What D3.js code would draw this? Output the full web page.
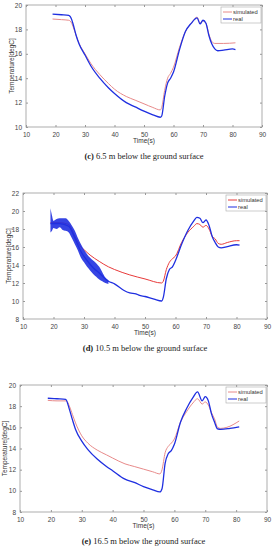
<!DOCTYPE html>
<html>
<head>
<meta charset="utf-8">
<script src="https://cdn.jsdelivr.net/npm/d3@7"></script>
<style>
  body { margin: 0; background: #fff; }
  .tick text { font-family: "Liberation Sans", Arial, sans-serif; font-size: 6.5px; fill: #444; }
  .axis path, .axis line { stroke: #999; }
</style>
</head>
<body>
<div id="chart"></div>
<script>
const xTicks = [10, 20, 30, 40, 50, 60, 70, 80, 90];

// (c) 6.5 m
const simC = [[19, 18.85], [22, 18.8], [24.5, 18.75], [25.5, 18.5], [26, 18.2], [27, 17.5], [28, 16.85], [30, 16.0], [32, 15.2], [35, 14.3], [38, 13.55], [40, 13.1], [44, 12.5], [47, 12.2], [50, 11.9], [53, 11.6], [55.5, 11.4], [56, 11.6], [57, 13.0], [58, 14.0], [59, 14.4], [60, 14.9], [62, 16.5], [64, 17.8], [66, 18.5], [68, 19.0], [69, 18.5], [70, 18.7], [71, 18.5], [72, 17.6], [73, 17.0], [74, 16.85], [77, 16.85], [81, 16.9]];
const realC = [[19, 19.25], [22, 19.2], [24.5, 19.15], [25.5, 18.8], [26, 18.4], [27, 17.5], [28, 16.8], [30, 15.9], [32, 15.0], [35, 14.0], [38, 13.2], [40, 12.75], [44, 12.0], [47, 11.65], [50, 11.3], [53, 11.0], [55.5, 10.8], [56, 10.9], [57, 12.5], [58, 13.6], [59, 14.0], [60, 14.5], [62, 16.3], [64, 17.8], [66, 18.5], [68, 18.95], [69, 18.45], [70, 18.75], [71, 18.5], [72, 17.5], [73, 16.8], [74, 16.4], [75, 16.25], [77, 16.3], [80, 16.4], [81, 16.35]];

// (d) 10.5 m
const simD = [[19, 18.7], [22, 18.7], [25, 18.5], [27, 17.2], [29, 16.0], [30, 15.7], [32, 15.1], [35, 14.4], [38, 13.8], [40, 13.5], [45, 12.9], [50, 12.45], [55.5, 12.0], [56, 12.2], [57, 13.5], [58, 14.3], [59, 14.7], [60, 15.0], [62, 16.5], [64, 17.6], [66, 18.3], [67, 18.6], [68, 18.5], [69, 18.2], [70, 18.4], [71, 18.0], [72, 17.2], [73, 16.9], [74, 16.4], [75, 16.3], [77, 16.5], [80, 16.7], [81, 16.7]];
const realD = [[19, 18.6], [22, 18.6], [25, 18.3], [27, 17.0], [29, 15.5], [31, 14.5], [33, 13.7], [35, 13.1], [38, 12.2], [40, 11.9], [43, 11.2], [45, 10.9], [47, 10.8], [48, 10.65], [50, 10.5], [53, 10.2], [55.5, 10.0], [56, 10.4], [57, 12.5], [58, 13.5], [59, 13.8], [60, 14.5], [62, 16.3], [64, 17.8], [66, 18.9], [67, 19.3], [68, 19.2], [69, 18.7], [70, 19.0], [71, 18.4], [72, 17.2], [73, 16.5], [74, 16.0], [75, 15.9], [77, 16.05], [80, 16.25], [81, 16.2]];
// noisy envelope of the real series at 10.5 m: [time, low, high]
const bandD = [[19, 17.6, 20.3], [19.5, 17.8, 19.5], [20, 18.1, 18.9], [21, 18.0, 19.1], [22, 18.2, 19.2], [23, 17.9, 19.2], [24, 17.8, 19.2], [25, 17.6, 18.9], [26, 17.0, 18.4], [27, 16.3, 17.8], [28, 15.6, 17.0], [29, 14.8, 16.3], [30, 14.3, 15.7], [31, 13.8, 15.2], [32, 13.4, 14.8], [33, 13.0, 14.5], [34, 12.7, 14.2], [35, 12.4, 13.8], [36, 12.2, 13.2], [37, 12.0, 12.6], [38, 11.9, 12.3]];

// (e) 16.5 m
const simE = [[19, 18.55], [22, 18.5], [25, 18.5], [26, 18.0], [27, 17.2], [28, 16.4], [30, 15.2], [32, 14.5], [35, 13.85], [38, 13.4], [40, 13.1], [44, 12.55], [47, 12.3], [50, 12.05], [53, 11.8], [55.3, 11.6], [56, 12.0], [57, 13.6], [58, 14.2], [59, 14.5], [60, 14.9], [62, 16.5], [64, 17.5], [66, 18.3], [67.5, 18.7], [69, 18.2], [70, 18.4], [71, 18.1], [72, 17.4], [73, 16.8], [74, 16.0], [75, 15.9], [77, 16.0], [81, 16.6]];
const realE = [[19, 18.75], [22, 18.7], [24.8, 18.65], [26, 17.7], [27, 16.7], [28, 15.8], [30, 14.7], [32, 13.9], [35, 13.0], [38, 12.3], [40, 11.9], [44, 11.1], [47, 10.8], [50, 10.4], [53, 10.1], [55.3, 9.9], [56, 10.2], [57, 12.6], [58, 13.5], [59, 13.8], [60, 14.4], [62, 16.5], [64, 17.8], [66, 18.8], [67.5, 19.35], [69, 18.5], [70, 18.9], [71, 18.5], [72, 17.3], [73, 16.5], [74, 15.85], [75, 15.8], [78, 15.9], [81, 16.05]];

const panels = [
  { tag: '(c)', depth: ' 6.5 m below the ground surface', yMin: 10, yMax: 20, sim: simC, real: realC, band: null,
    left: 26, right: 262, top: 5, bottom: 127, simColor: '#e88a8a', yLabelX: 12 },
  { tag: '(d)', depth: ' 10.5 m below the ground surface', yMin: 8, yMax: 22, sim: simD, real: realD, band: bandD,
    left: 23, right: 267, top: 193, bottom: 319, simColor: '#e83a3a', yLabelX: 9 },
  { tag: '(e)', depth: ' 16.5 m below the ground surface', yMin: 8, yMax: 20, sim: simE, real: realE, band: null,
    left: 20, right: 267, top: 385, bottom: 512, simColor: '#e88a8a', yLabelX: 5 }
];

const svg = d3.select('#chart').append('svg')
    .attr('width', 273)
    .attr('height', 550);

panels.forEach(p => {
    const x = d3.scaleLinear().domain([10, 90]).range([p.left, p.right]);
    const y = d3.scaleLinear().domain([p.yMin, p.yMax]).range([p.bottom, p.top]);
    const yTicks = d3.range(p.yMin, p.yMax + 1, 2);
    const g = svg.append('g');

    g.append('rect')
        .attr('x', p.left).attr('y', p.top)
        .attr('width', p.right - p.left).attr('height', p.bottom - p.top)
        .attr('fill', 'none').attr('stroke', '#999').attr('stroke-width', 0.8);

    g.append('g').attr('class', 'axis')
        .attr('transform', `translate(0,${p.bottom})`)
        .call(d3.axisBottom(x).tickValues(xTicks).tickSize(-2).tickPadding(5))
        .call(a => a.select('.domain').remove());
    g.append('g').attr('class', 'axis')
        .attr('transform', `translate(0,${p.top})`)
        .call(d3.axisTop(x).tickValues(xTicks).tickSize(-2).tickFormat(''))
        .call(a => a.select('.domain').remove());
    g.append('g').attr('class', 'axis')
        .attr('transform', `translate(${p.left},0)`)
        .call(d3.axisLeft(y).tickValues(yTicks).tickSize(-2).tickPadding(4))
        .call(a => a.select('.domain').remove());
    g.append('g').attr('class', 'axis')
        .attr('transform', `translate(${p.right},0)`)
        .call(d3.axisRight(y).tickValues(yTicks).tickSize(-2).tickFormat(''))
        .call(a => a.select('.domain').remove());

    const line = d3.line().x(d => x(d[0])).y(d => y(d[1])).curve(d3.curveMonotoneX);

    g.append('path')
        .datum(p.sim)
        .attr('fill', 'none')
        .attr('stroke', p.simColor)
        .attr('stroke-width', 1)
        .attr('d', line);

    if (p.band) {
        g.append('path')
            .datum(p.band)
            .attr('fill', '#2030e0')
            .attr('fill-opacity', 0.9)
            .attr('stroke', 'none')
            .attr('d', d3.area().x(d => x(d[0])).y0(d => y(d[1])).y1(d => y(d[2])).curve(d3.curveMonotoneX));
    }

    g.append('path')
        .datum(p.real)
        .attr('fill', 'none')
        .attr('stroke', '#1f2fe0')
        .attr('stroke-width', 1.3)
        .attr('d', line);

    // legend
    const lx = p.right - 41, ly = p.top + 2;
    const leg = g.append('g');
    leg.append('rect')
        .attr('x', lx).attr('y', ly).attr('width', 40).attr('height', 16)
        .attr('fill', '#fff').attr('stroke', '#aaa').attr('stroke-width', 0.6);
    [['simulated', p.simColor], ['real', '#1f2fe0']].forEach((e, i) => {
        const yy = ly + 5 + i * 7;
        leg.append('line')
            .attr('x1', lx + 2).attr('x2', lx + 11).attr('y1', yy).attr('y2', yy)
            .attr('stroke', e[1]).attr('stroke-width', 1);
        leg.append('text')
            .attr('x', lx + 12).attr('y', yy + 2)
            .attr('font-family', 'Liberation Sans, Arial, sans-serif')
            .attr('font-size', 5.8).attr('fill', '#333')
            .text(e[0]);
    });

    g.append('text')
        .attr('x', (p.left + p.right) / 2).attr('y', p.bottom + 16)
        .attr('text-anchor', 'middle')
        .attr('font-family', 'Liberation Sans, Arial, sans-serif')
        .attr('font-size', 6.5).attr('fill', '#333')
        .text('Time(s)');

    g.append('text')
        .attr('transform', `translate(${p.yLabelX},${(p.top + p.bottom) / 2}) rotate(-90)`)
        .attr('text-anchor', 'middle')
        .attr('dy', '0.35em')
        .attr('font-family', 'Liberation Sans, Arial, sans-serif')
        .attr('font-size', 6.5).attr('fill', '#333')
        .text('Temperature[degC]');

    const cap = g.append('text')
        .attr('x', (p.left + p.right) / 2).attr('y', p.bottom + 32)
        .attr('text-anchor', 'middle')
        .attr('font-family', 'Liberation Serif, Times New Roman, serif')
        .attr('font-size', 8.5).attr('fill', '#222');
    cap.append('tspan').attr('font-weight', 'bold').text(p.tag);
    cap.append('tspan').text(p.depth);
});
</script>
</body>
</html>
